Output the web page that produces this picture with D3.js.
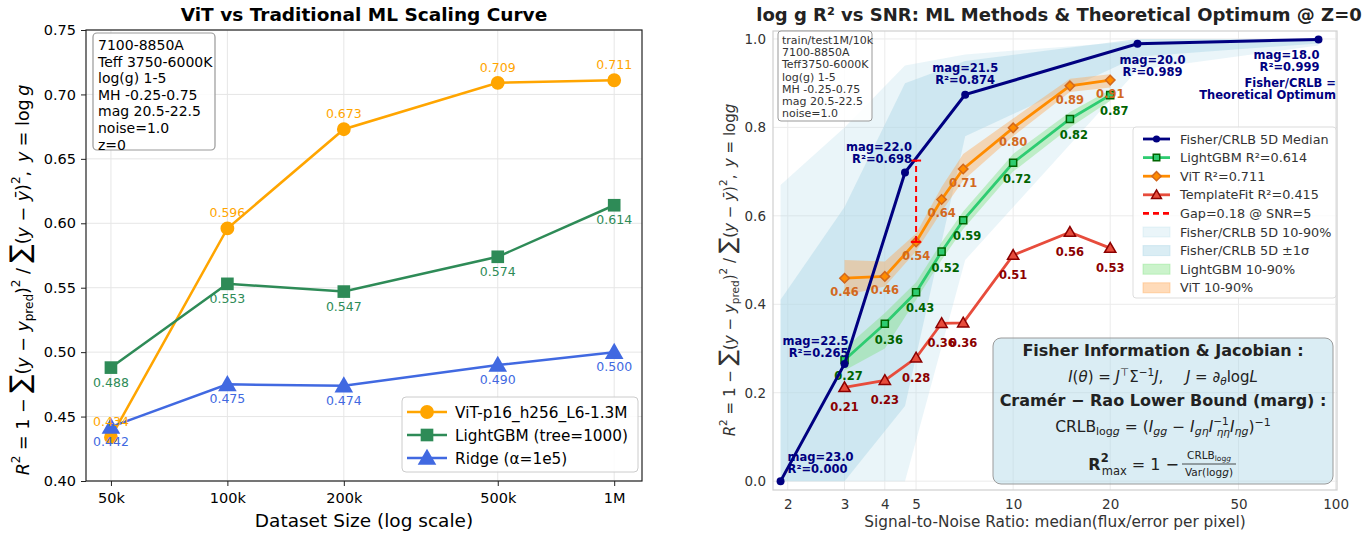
<!DOCTYPE html>
<html lang="en">
<head>
<meta charset="utf-8">
<title>ViT scaling and SNR curves</title>
<script src="https://cdnjs.cloudflare.com/ajax/libs/d3/7.8.5/d3.min.js"></script>
<style>
  body { margin: 0; background: #fff; }
  text { font-family: "DejaVu Sans", sans-serif; }
</style>
</head>
<body>
<script>
// ---- left panel data
var sizes = [50000, 100000, 200000, 500000, 1000000];
var sizeLabels = ["50k", "100k", "200k", "500k", "1M"];
var vitR2 = [0.434, 0.596, 0.673, 0.709, 0.711];
var lgbmR2 = [0.488, 0.553, 0.547, 0.574, 0.614];
var ridgeR2 = [0.442, 0.475, 0.474, 0.490, 0.500];
var leftYTicks = [0.40, 0.45, 0.50, 0.55, 0.60, 0.65, 0.70, 0.75];
var leftBox = ["7100-8850A", "Teff 3750-6000K", "log(g) 1-5", "MH -0.25-0.75", "mag 20.5-22.5", "noise=1.0", "z=0"];

// ---- right panel data
var snr = [3, 4, 5, 6, 7, 10, 15, 20];
var vitSnr = [0.459, 0.463, 0.541, 0.637, 0.706, 0.799, 0.894, 0.907];
var vitLo = [0.42, 0.44, 0.52, 0.61, 0.68, 0.78, 0.88, 0.89];
var vitHi = [0.50, 0.497, 0.56, 0.665, 0.74, 0.82, 0.91, 0.92];
var lgbmSnr = [0.274, 0.356, 0.427, 0.519, 0.590, 0.720, 0.819, 0.873];
var lgbmLo = [0.25, 0.30, 0.41, 0.50, 0.57, 0.70, 0.80, 0.86];
var lgbmHi = [0.30, 0.38, 0.45, 0.54, 0.61, 0.74, 0.835, 0.885];
var tfSnr = [0.212, 0.228, 0.279, 0.357, 0.358, 0.511, 0.563, 0.527];
var fisherSnr = [1.9, 3.0, 4.62, 7.1, 24.3, 88.5];
var fisherMag = ["23.0", "22.5", "22.0", "21.5", "20.0", "18.0"];
var fisherMed = [0.000, 0.265, 0.698, 0.874, 0.989, 0.999];
var fisherP10 = [0, 0, 0, 0.50, 0.93, 0.985];
var fisherP90 = [0.67, 0.80, 0.94, 0.965, 0.995, 1.0];
var fisherLo = [0, 0, 0.17, 0.78, 0.96, 0.99];
var fisherHi = [0.41, 0.62, 0.90, 0.95, 1.0, 1.0];
var gapSnr = 5, gapLo = 0.541, gapHi = 0.725;
var snrTicks = [2, 3, 4, 5, 10, 20, 50, 100];
var rightYTicks = [0, 0.2, 0.4, 0.6, 0.8, 1.0];
var rightBox = ["train/test1M/10k", "7100-8850A", "Teff3750-6000K", "log(g) 1-5", "MH -0.25-0.75", "mag 20.5-22.5", "noise=1.0"];

var svg = d3.select("body").append("svg")
    .attr("width", 1367).attr("height", 534)
    .style("background", "#fff");

// writes a list of [string, style] pieces into a text node
function mathText(t, parts) {
    parts.forEach(function (p) {
        var o = p[1] || {};
        var ts = t.append("tspan").text(p[0]);
        if (o.i) ts.style("font-style", "italic");
        if (o.b) ts.style("font-weight", "bold");
        if (o.fs) ts.style("font-size", o.fs);
        if (o.sup) ts.attr("baseline-shift", o.sup).style("font-size", o.fs || "70%");
        if (o.sub) ts.attr("baseline-shift", "-" + o.sub).style("font-size", o.fs || "70%");
        if (o.dx) ts.attr("dx", o.dx);
    });
    return t;
}

function marker(g, type, x, y, size, fill, stroke, sw) {
    var sym = {circle: d3.symbolCircle, square: d3.symbolSquare, triangle: d3.symbolTriangle, diamond: d3.symbolSquare}[type];
    var p = g.append("path")
        .attr("d", d3.symbol().type(sym).size(size)())
        .attr("fill", fill)
        .attr("stroke", stroke || "none")
        .attr("stroke-width", sw || 0);
    var rot = type == "diamond" ? " rotate(45)" : "";
    var dy = type == "triangle" ? Math.sqrt(size) * 0.12 : 0;
    p.attr("transform", "translate(" + x + "," + (y + dy) + ")" + rot);
    return p;
}

// ================= LEFT PANEL =================
var L = {l: 86, r: 642, t: 30, b: 481};
var xL = d3.scaleLog().domain([43100, 1180000]).range([L.l, L.r]);
var yL = d3.scaleLinear().domain([0.40, 0.75]).range([L.b, L.t]);
var gL = svg.append("g");

gL.selectAll(".vg").data(sizes).enter().append("line")
    .attr("x1", d => xL(d)).attr("x2", d => xL(d))
    .attr("y1", L.t).attr("y2", L.b)
    .attr("stroke", "#e6e6e6").attr("stroke-width", 1);
gL.selectAll(".hg").data(leftYTicks).enter().append("line")
    .attr("x1", L.l).attr("x2", L.r)
    .attr("y1", d => yL(d)).attr("y2", d => yL(d))
    .attr("stroke", "#e6e6e6").attr("stroke-width", 1);

var xAxisL = d3.axisBottom(xL).tickValues(sizes).tickFormat((d, i) => sizeLabels[i]).tickSize(5).tickPadding(7);
var yAxisL = d3.axisLeft(yL).tickValues(leftYTicks).tickFormat(d3.format(".2f")).tickSize(5).tickPadding(5);
gL.append("g").attr("transform", "translate(0," + L.b + ")").call(xAxisL);
gL.append("g").attr("transform", "translate(" + L.l + ",0)").call(yAxisL);
gL.selectAll(".domain").remove();
gL.selectAll(".tick text").style("font-size", "14.5px").attr("fill", "#000").style("font-family", "DejaVu Sans");
gL.selectAll(".tick line").attr("stroke", "#222");
gL.append("rect").attr("x", L.l).attr("y", L.t).attr("width", L.r - L.l).attr("height", L.b - L.t)
    .attr("fill", "none").attr("stroke", "#222").attr("stroke-width", 1.2);

var leftSeries = [
    {name: "ViT-p16_h256_L6-1.3M", vals: vitR2, color: "#FFA500", m: "circle", size: 150, off: -11},
    {name: "LightGBM (tree=1000)", vals: lgbmR2, color: "#2E8B57", m: "square", size: 160, off: 19},
    {name: "Ridge (\u03b1=1e5)", vals: ridgeR2, color: "#4169E1", m: "triangle", size: 150, off: 19}
];
leftSeries.forEach(function (s) {
    var line = d3.line().x((d, i) => xL(sizes[i])).y(d => yL(d));
    gL.append("path").datum(s.vals).attr("d", line)
        .attr("fill", "none").attr("stroke", s.color).attr("stroke-width", 2.5);
});
leftSeries.forEach(function (s) {
    s.vals.forEach(function (v, i) {
        marker(gL, s.m, xL(sizes[i]), yL(v), s.size, s.color);
    });
});
leftSeries.forEach(function (s) {
    gL.selectAll(null).data(s.vals).enter().append("text")
        .attr("x", (d, i) => xL(sizes[i]))
        .attr("y", d => yL(d) + s.off)
        .attr("text-anchor", "middle")
        .style("font-size", "12.5px")
        .attr("fill", s.color)
        .text(d => d3.format(".3f")(d));
});

gL.append("text").attr("x", 364).attr("y", 21).attr("text-anchor", "middle")
    .style("font-size", "18.5px").style("font-weight", "bold").text("ViT vs Traditional ML Scaling Curve");
gL.append("text").attr("x", 364).attr("y", 527).attr("text-anchor", "middle")
    .style("font-size", "18.5px").text("Dataset Size (log scale)");

mathText(gL.append("text").attr("transform", "translate(29,280) rotate(-90)").attr("text-anchor", "middle").style("font-size", "17.5px"), [
    ["R", {i: 1}], ["2", {sup: "9px", fs: "12px"}], [" = 1 \u2212 "], ["\u2211", {fs: "27px"}], ["("], ["y", {i: 1}], [" \u2212 "], ["y", {i: 1}],
    ["pred", {sub: "4px", fs: "12px"}], [")"], ["2", {sup: "9px", fs: "12px"}], [" / "], ["\u2211", {fs: "27px"}], ["("], ["y", {i: 1}], [" \u2212 "],
    ["y\u0304", {i: 1}], [")"], ["2", {sup: "9px", fs: "12px"}], [",\u2002"], ["y", {i: 1}], [" = log\u2009"], ["g", {i: 1}]
]);

// info box
var lb = gL.append("g");
lb.append("rect").attr("x", 93).attr("y", 33).attr("width", 122).attr("height", 117).attr("rx", 4)
    .attr("fill", "#fff").attr("fill-opacity", 0.85).attr("stroke", "#999").attr("stroke-width", 1.2);
lb.selectAll("text").data(leftBox).enter().append("text")
    .attr("x", 98).attr("y", (d, i) => 50 + i * 16.6)
    .style("font-size", "14px").text(d => d);

// legend
var lg = gL.append("g");
lg.append("rect").attr("x", 402).attr("y", 397).attr("width", 236).attr("height", 75).attr("rx", 4)
    .attr("fill", "#fff").attr("fill-opacity", 0.85).attr("stroke", "#ccc");
leftSeries.forEach(function (s, i) {
    var y = 412 + i * 23;
    lg.append("line").attr("x1", 407).attr("x2", 447).attr("y1", y).attr("y2", y)
        .attr("stroke", s.color).attr("stroke-width", 2.5);
    marker(lg, s.m, 427, y, s.size, s.color);
    lg.append("text").attr("x", 455).attr("y", y + 5.5).style("font-size", "15.3px").text(s.name);
});

// ================= RIGHT PANEL =================
var R = {l: 773, r: 1337, t: 31, b: 490};
var xR = d3.scaleLog().domain([1.80, 101]).range([R.l, R.r]);
var yR = d3.scaleLinear().domain([-0.02, 1.018]).range([R.b, R.t]);
var gR = svg.append("g");

gR.selectAll(".vg").data(snrTicks).enter().append("line")
    .attr("x1", d => xR(d)).attr("x2", d => xR(d)).attr("y1", R.t).attr("y2", R.b)
    .attr("stroke", "#ebebeb");
gR.selectAll(".hg").data(rightYTicks).enter().append("line")
    .attr("x1", R.l).attr("x2", R.r).attr("y1", d => yR(d)).attr("y2", d => yR(d))
    .attr("stroke", "#ebebeb");

var fisherArea = function (lo, hi) {
    return d3.area().x((d, i) => xR(fisherSnr[i])).y0((d, i) => yR(lo[i])).y1((d, i) => yR(hi[i]))(fisherSnr);
};
gR.append("path").attr("d", fisherArea(fisherP10, fisherP90)).attr("fill", "#ADD8E6").attr("fill-opacity", 0.25);
gR.append("path").attr("d", fisherArea(fisherLo, fisherHi)).attr("fill", "#ADD8E6").attr("fill-opacity", 0.45);

var snrArea = function (lo, hi) {
    return d3.area().x((d, i) => xR(snr[i])).y0((d, i) => yR(lo[i])).y1((d, i) => yR(hi[i]))(snr);
};
gR.append("path").attr("d", snrArea(lgbmLo, lgbmHi)).attr("fill", "#7CE07C").attr("fill-opacity", 0.4);
gR.append("path").attr("d", snrArea(vitLo, vitHi)).attr("fill", "#FFA54F").attr("fill-opacity", 0.4);

var rightSeries = [
    {vals: tfSnr, color: "#E74C3C", edge: "#8B0000", m: "triangle", size: 55, lab: "#8B0000", off: 24, dx: 0},
    {vals: lgbmSnr, color: "#2ECC71", edge: "#006400", m: "square", size: 50, lab: "#006400", off: 20, dx: 4},
    {vals: vitSnr, color: "#FF8C00", edge: "#D2691E", m: "diamond", size: 45, lab: "#D2691E", off: 18, dx: 0}
];
rightSeries.forEach(function (s) {
    gR.append("path").datum(s.vals)
        .attr("d", d3.line().x((d, i) => xR(snr[i])).y(d => yR(d)))
        .attr("fill", "none").attr("stroke", s.color).attr("stroke-width", 2.8);
    s.vals.forEach(function (v, i) {
        marker(gR, s.m, xR(snr[i]), yR(v), s.size, s.color, s.edge, 1.5);
    });
    gR.selectAll(null).data(s.vals).enter().append("text")
        .attr("x", (d, i) => xR(snr[i]) + s.dx).attr("y", d => yR(d) + s.off)
        .attr("text-anchor", "middle").style("font-size", "11.5px").style("font-weight", "bold")
        .attr("fill", s.lab).text(d => d3.format(".2f")(d));
});

// fisher median
gR.append("path").datum(fisherMed)
    .attr("d", d3.line().x((d, i) => xR(fisherSnr[i])).y(d => yR(d)))
    .attr("fill", "none").attr("stroke", "#000080").attr("stroke-width", 3);
fisherMed.forEach(function (v, i) {
    marker(gR, "circle", xR(fisherSnr[i]), yR(v), 50, "#000080");
});

// gap marker
var gx = xR(gapSnr);
gR.append("line").attr("x1", gx).attr("x2", gx).attr("y1", yR(gapLo)).attr("y2", yR(gapHi))
    .attr("stroke", "#FF0000").attr("stroke-width", 2).attr("stroke-dasharray", "6,4");
[gapLo, gapHi].forEach(function (v) {
    gR.append("line").attr("x1", gx - 5).attr("x2", gx + 5).attr("y1", yR(v)).attr("y2", yR(v))
        .attr("stroke", "#FF0000").attr("stroke-width", 2);
});

// fisher annotations: [dx, dy, anchor]
var annPos = [[7, -24, "start"], [4, -23, "end"], [7, -26, "end"], [0, -27, "middle"], [15, 16, "middle"], [1, 16, "end"]];
fisherMed.forEach(function (v, i) {
    var a = annPos[i];
    var t = gR.append("text").attr("x", xR(fisherSnr[i]) + a[0]).attr("y", yR(v) + a[1] + 4)
        .attr("text-anchor", a[2]).style("font-size", "11.5px").style("font-weight", "bold").attr("fill", "#000080");
    t.append("tspan").text("mag=" + fisherMag[i]);
    t.append("tspan").attr("x", xR(fisherSnr[i]) + a[0]).attr("dy", 12).text("R\u00b2=" + d3.format(".3f")(v));
});
var opt = gR.append("text").attr("text-anchor", "end").style("font-size", "11.5px").style("font-weight", "bold").attr("fill", "#000080");
opt.append("tspan").attr("x", 1336).attr("y", 87).text("Fisher/CRLB =");
opt.append("tspan").attr("x", 1336).attr("y", 99).text("Theoretical Optimum");

// frame + axes
gR.append("rect").attr("x", R.l).attr("y", R.t).attr("width", R.r - R.l).attr("height", R.b - R.t)
    .attr("fill", "none").attr("stroke", "#cfcfcf").attr("stroke-width", 1.2);
var xAxisR = d3.axisBottom(xR).tickValues(snrTicks).tickFormat(d3.format("d")).tickSize(0).tickPadding(9);
var yAxisR = d3.axisLeft(yR).tickValues(rightYTicks).tickFormat(d3.format(".1f")).tickSize(0).tickPadding(7);
var axR = gR.append("g").attr("transform", "translate(0," + R.b + ")").call(xAxisR);
var ayR = gR.append("g").attr("transform", "translate(" + R.l + ",0)").call(yAxisR);
axR.select(".domain").remove();
ayR.select(".domain").remove();
gR.selectAll(".tick text").style("font-size", "13.5px").attr("fill", "#333").style("font-family", "DejaVu Sans");

gR.append("text").attr("x", 1059).attr("y", 21).attr("text-anchor", "middle")
    .style("font-size", "18px").style("font-weight", "bold").attr("fill", "#222")
    .text("log g R\u00b2 vs SNR: ML Methods & Theoretical Optimum @ Z=0");
gR.append("text").attr("x", 1055).attr("y", 527).attr("text-anchor", "middle")
    .style("font-size", "15.3px").attr("fill", "#333").text("Signal-to-Noise Ratio: median(flux/error per pixel)");
mathText(gR.append("text").attr("transform", "translate(735,270) rotate(-90)").attr("text-anchor", "middle")
    .style("font-size", "15px").attr("fill", "#333"), [
    ["R", {i: 1}], ["2", {sup: "8px", fs: "10.5px"}], [" = 1 \u2212 "], ["\u2211", {fs: "23px"}], ["("], ["y", {i: 1}], [" \u2212 "], ["y", {i: 1}],
    ["pred", {sub: "4px", fs: "10.5px"}], [")"], ["2", {sup: "8px", fs: "10.5px"}], [" / "], ["\u2211", {fs: "23px"}], ["("], ["y", {i: 1}], [" \u2212 "],
    ["y\u0304", {i: 1}], [")"], ["2", {sup: "8px", fs: "10.5px"}], [",\u2002"], ["y", {i: 1}], [" = log"], ["g", {i: 1}]
]);

// info box
var rb = gR.append("g");
rb.append("rect").attr("x", 778).attr("y", 31).attr("width", 94).attr("height", 90).attr("rx", 3)
    .attr("fill", "#fff").attr("fill-opacity", 0.85).attr("stroke", "#999");
rb.selectAll("text").data(rightBox).enter().append("text")
    .attr("x", 782).attr("y", (d, i) => 44 + i * 12.2)
    .style("font-size", "11px").attr("fill", "#333").text(d => d);

// legend
var rg = gR.append("g");
rg.append("rect").attr("x", 1133).attr("y", 127).attr("width", 203).attr("height", 171).attr("rx", 3)
    .attr("fill", "#fff").attr("fill-opacity", 0.8).attr("stroke", "#ddd");
var legItems = [
    {t: "line", c: "#000080", m: "circle", f: "#000080", e: null, name: "Fisher/CRLB 5D Median"},
    {t: "line", c: "#2ECC71", m: "square", f: "#2ECC71", e: "#006400", name: "LightGBM R\u00b2=0.614"},
    {t: "line", c: "#FF8C00", m: "diamond", f: "#FF8C00", e: "#D2691E", name: "ViT R\u00b2=0.711"},
    {t: "line", c: "#E74C3C", m: "triangle", f: "#E74C3C", e: "#8B0000", name: "TemplateFit R\u00b2=0.415"},
    {t: "dash", c: "#FF0000", name: "Gap=0.18 @ SNR=5"},
    {t: "patch", c: "#ADD8E6", o: 0.25, name: "Fisher/CRLB 5D 10-90%"},
    {t: "patch", c: "#ADD8E6", o: 0.45, name: "Fisher/CRLB 5D \u00b11\u03c3"},
    {t: "patch", c: "#7CE07C", o: 0.4, name: "LightGBM 10-90%"},
    {t: "patch", c: "#FFA54F", o: 0.4, name: "ViT 10-90%"}
];
legItems.forEach(function (it, i) {
    var y = 139 + i * 18.6;
    if (it.t == "patch") {
        rg.append("rect").attr("x", 1143).attr("y", y - 5).attr("width", 27).attr("height", 10)
            .attr("fill", it.c).attr("fill-opacity", it.o).attr("stroke", it.c).attr("stroke-opacity", it.o);
    } else {
        rg.append("line").attr("x1", 1143).attr("x2", 1170).attr("y1", y).attr("y2", y)
            .attr("stroke", it.c).attr("stroke-width", 2.8).attr("stroke-dasharray", it.t == "dash" ? "6,4" : null);
        if (it.m) marker(rg, it.m, 1156.5, y, it.m == "circle" ? 40 : 42, it.f, it.e, 1.5);
    }
    rg.append("text").attr("x", 1180).attr("y", y + 4.5).style("font-size", "12.8px").attr("fill", "#333").text(it.name);
});

// formula box
var fb = gR.append("g");
fb.append("rect").attr("x", 993).attr("y", 338).attr("width", 340).attr("height", 146).attr("rx", 8)
    .attr("fill", "#ADD8E6").attr("fill-opacity", 0.45).attr("stroke", "#9a9a9a").attr("stroke-width", 1);
var cx = 1163;
fb.append("text").attr("x", cx).attr("y", 356).attr("text-anchor", "middle")
    .style("font-size", "16px").style("font-weight", "bold").attr("fill", "#222").text("Fisher Information & Jacobian :");
mathText(fb.append("text").attr("x", cx).attr("y", 382).attr("text-anchor", "middle").style("font-size", "15px").attr("fill", "#222"), [
    ["I", {i: 1}], ["(", {}], ["\u03b8", {i: 1}], [") = "], ["J", {i: 1}], ["\u22a4", {sup: "6px", fs: "10.5px"}], ["\u03a3"], ["\u22121", {sup: "6px", fs: "10.5px"}],
    ["J", {i: 1}], [",\u2003\u2002"], ["J", {i: 1}], [" = \u2202"], ["\u03b8", {i: 1, sub: "3px", fs: "10.5px"}], ["log"], ["L", {i: 1}]
]);
fb.append("text").attr("x", cx).attr("y", 406).attr("text-anchor", "middle")
    .style("font-size", "16px").style("font-weight", "bold").attr("fill", "#222").text("Cram\u00e9r \u2212 Rao Lower Bound (marg) :");
mathText(fb.append("text").attr("x", cx).attr("y", 432).attr("text-anchor", "middle").style("font-size", "15.5px").attr("fill", "#222"), [
    ["CRLB"], ["log", {sub: "3px", fs: "11px"}], ["g", {i: 1, sub: "3px", fs: "11px"}], [" = ("], ["I", {i: 1}], ["gg", {i: 1, sub: "3px", fs: "11px"}], [" \u2212 "],
    ["I", {i: 1}], ["g\u03b7", {i: 1, sub: "3px", fs: "11px"}], ["I", {i: 1}], ["\u22121", {sup: "7px", fs: "10.5px"}], ["\u03b7\u03b7", {i: 1, sub: "4px", fs: "10.5px", dx: -12}],
    ["I", {i: 1}], ["\u03b7g", {i: 1, sub: "3px", fs: "11px"}], [")"], ["\u22121", {sup: "6px", fs: "11px"}]
]);
mathText(fb.append("text").attr("x", 1179).attr("y", 470).attr("text-anchor", "end").style("font-size", "16px").attr("fill", "#222"), [
    ["R", {b: 1}], ["2", {b: 1, sup: "8px", fs: "11.5px"}], ["max", {sub: "5px", fs: "11.5px", dx: -7}], [" = 1 \u2212 "]
]);
fb.append("line").attr("x1", 1182).attr("x2", 1236).attr("y1", 464).attr("y2", 464).attr("stroke", "#222").attr("stroke-width", 0.8);
mathText(fb.append("text").attr("x", 1209).attr("y", 459).attr("text-anchor", "middle").style("font-size", "10.5px").attr("fill", "#222"), [
    ["CRLB"], ["log", {sub: "2px", fs: "7.5px"}], ["g", {i: 1, sub: "2px", fs: "7.5px"}]
]);
mathText(fb.append("text").attr("x", 1209).attr("y", 476).attr("text-anchor", "middle").style("font-size", "10.5px").attr("fill", "#222"), [
    ["Var(log"], ["g", {i: 1}], [")"]
]);
</script>
</body>
</html>
